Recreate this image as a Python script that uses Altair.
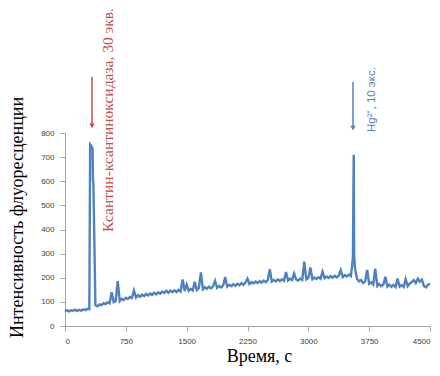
import altair as alt
import pandas as pd

# ---- data ----
times_a = list(range(0, 301, 25))
vals_a = [62, 66, 60, 65, 63, 68, 62, 67, 64, 69, 66, 71, 70]

times_p1 = [310, 320, 330, 340, 345, 350]
vals_p1 = [752, 748, 742, 735, 602, 595]

times_b = list(range(375, 3551, 25))
vals_b = [
    86, 82, 90, 87, 95, 91, 98, 94, 140, 99,
    104, 186, 103, 113, 108, 117, 112, 120, 116, 147,
    118, 128, 121, 130, 124, 133, 127, 135, 129, 138,
    131, 140, 134, 143, 137, 146, 138, 147, 140, 148,
    141, 150, 143, 193, 145, 172, 146, 154, 147, 183,
    149, 158, 222, 152, 161, 154, 163, 156, 164, 187,
    158, 166, 160, 168, 203, 163, 171, 165, 173, 167,
    175, 169, 178, 171, 180, 196, 174, 182, 176, 184,
    178, 186, 180, 188, 182, 190, 235, 184, 191, 185,
    193, 186, 194, 188, 224, 189, 196, 190, 218, 192,
    188, 197, 191, 267, 193, 199, 243, 194, 201, 195,
    202, 196, 225, 198, 205, 199, 207, 200, 208, 201,
    209, 232, 203, 211, 205, 213, 207, 286,
]

times_p2 = [3555, 3560, 3565]
vals_p2 = [520, 710, 290]

times_c = list(range(3575, 4501, 25))
vals_c = [
    240, 196, 185, 190, 178, 184, 232, 175, 181, 172,
    238, 166, 174, 165, 172, 204, 163, 171, 162, 170,
    161, 197, 163, 170, 162, 194, 165, 176, 182, 190,
    178, 196, 184, 192, 166, 160, 171, 175,
]

x_ticks = [0, 750, 1500, 2250, 3000, 3750, 4500]
y_ticks = [0, 100, 200, 300, 400, 500, 600, 700, 800]

# annotations
ann_labels = ["Ксантин-ксантиноксидаза, 30 экв.", "Hg²⁺, 10 экс."]
ann_text_t = [530, 3785]
ann_text_v = [390, 804]
arrow_t = [333, 3551]
arrow_top = [1032, 1011]
arrow_tip = [830, 820]
ann_colors = ["#C0504D", "#4F81BD"]

times = times_a + times_p1 + times_b + times_p2 + times_c
vals = vals_a + vals_p1 + vals_b + vals_p2 + vals_c
df = pd.DataFrame({"t": times, "v": vals})

arrows = pd.DataFrame({"t": arrow_t, "v": arrow_top, "v2": arrow_tip, "c": ann_colors})
heads = pd.DataFrame({"t": arrow_t, "v": arrow_tip, "c": ann_colors})
red_txt = pd.DataFrame({"t": [ann_text_t[0]], "v": [ann_text_v[0]], "lab": [ann_labels[0]]})
blue_txt = pd.DataFrame({"t": [ann_text_t[1]], "v": [ann_text_v[1]], "lab": [ann_labels[1]]})

xsc = alt.Scale(domain=[0, 4500], nice=False, zero=False)
ysc = alt.Scale(domain=[0, 800], nice=False)

x_enc = alt.X("t:Q", scale=xsc, axis=alt.Axis(
    values=x_ticks, format="d", title="Время, с", tickSize=5, labelPadding=6,
    labelOverlap=False, titleY=30, titleX=194, titleAlign="center",
    titleBaseline="middle"))
y_enc = alt.Y("v:Q", scale=ysc, axis=alt.Axis(
    values=y_ticks, format="d", title="Интенсивность флуоресценции",
    tickSize=5, labelPadding=6, labelOverlap=False, titleX=-48, titleY=84,
    titleAlign="center", titleBaseline="middle"))

line = alt.Chart(df).mark_line(color="#4F81BD", strokeWidth=2.4).encode(x=x_enc, y=y_enc)

rules = alt.Chart(arrows).mark_rule(strokeWidth=1.5).encode(
    x=x_enc, y=y_enc, y2="v2:Q",
    color=alt.Color("c:N", scale=None))
tips = alt.Chart(heads).mark_point(shape="triangle-down", filled=True, size=30, opacity=1).encode(
    x=x_enc, y=y_enc,
    color=alt.Color("c:N", scale=None))

t_red = alt.Chart(red_txt).mark_text(
    angle=270, align="left", baseline="middle", font="Liberation Serif",
    fontSize=15.5, color="#C0504D").encode(
    x=x_enc, y=y_enc, text="lab:N")
t_blue = alt.Chart(blue_txt).mark_text(
    angle=270, align="left", baseline="middle", font="Liberation Sans",
    fontSize=11.5, color="#4F81BD").encode(
    x=x_enc, y=y_enc, text="lab:N")

chart = alt.layer(line, rules, tips, t_red, t_blue).properties(
    width=365, height=193, autosize="none",
    padding={"left": 57, "top": 125, "right": 2, "bottom": 42},
).configure_axis(
    grid=False, domainColor="#A6A6A6", tickColor="#A6A6A6",
    labelFont="Liberation Sans", labelFontSize=8, labelColor="#404040",
    titleFont="Liberation Serif", titleFontSize=18, titleFontWeight="normal",
    titleColor="#000000",
).configure_view(stroke=None)

chart.save("out.html", embed_options={"renderer": "svg", "actions": False})
